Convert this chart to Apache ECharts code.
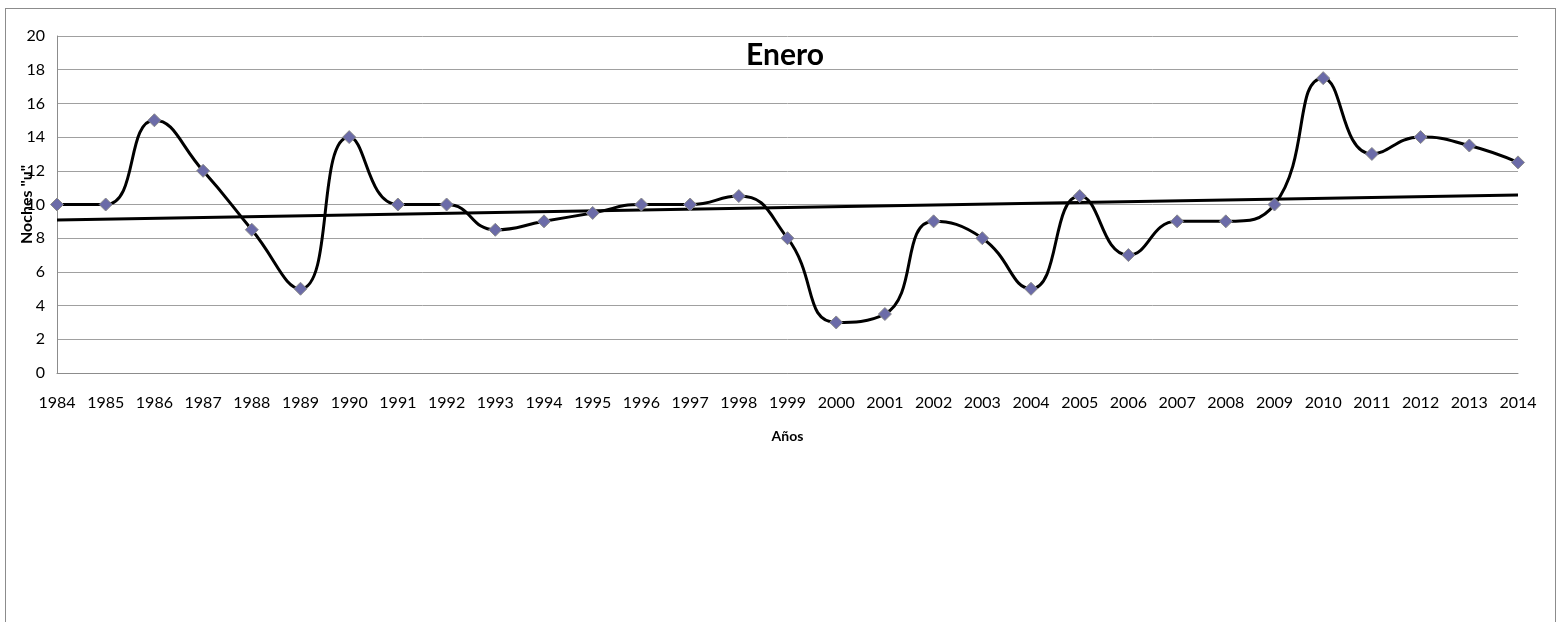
<!DOCTYPE html>
<html><head><meta charset="utf-8">
<script src="https://cdn.jsdelivr.net/npm/echarts@6/dist/echarts.min.js"></script>
<style>html,body{margin:0;padding:0;background:#fff}#c{width:1560px;height:622px}
#frame{position:absolute;left:5px;top:8px;width:1551px;height:640px;border:1px solid #8c8c8c;box-sizing:border-box;pointer-events:none}</style>
</head><body><div id="c"></div><div id="frame"></div>
<script>
const years = ['1984','1985','1986','1987','1988','1989','1990','1991','1992','1993','1994','1995','1996','1997','1998','1999','2000','2001','2002','2003','2004','2005','2006','2007','2008','2009','2010','2011','2012','2013','2014'];
const noches = [10,10,15,12,8.5,5,14,10,10,8.5,9,9.5,10,10,10.5,8,3,3.5,9,8,5,10.5,7,9,9,10,17.5,13,14,13.5,12.5];
const trendEnds = [9.08, 10.56];
const yTicks = [0,2,4,6,8,10,12,14,16,18,20];
const titleText = 'Enero';
const xName = 'Años';
const yName = 'Noches "u"';

const trendData = years.map((_, i) => i === 0 ? trendEnds[0] : (i === years.length - 1 ? trendEnds[1] : null));
const font = 'Lato, "Open Sans", sans-serif';
const chart = echarts.init(document.getElementById('c'));
chart.setOption({
  animation: false,
  title: {text: titleText, left: 780, top: 35, textAlign: 'center',
    textStyle: {fontFamily: font, fontSize: 30, fontWeight: 'bold', color: '#000'}},
  grid: {left: 57, right: 42, top: 36, bottom: 249, containLabel: false, outerBoundsMode: 'none'},
  xAxis: {type: 'category', data: years, boundaryGap: false,
    name: xName, nameLocation: 'middle', nameGap: 56, nameMoveOverlap: false,
    nameTextStyle: {fontFamily: font, fontSize: 14, fontWeight: 'bold', color: '#000'},
    axisLine: {lineStyle: {color: '#8c8c8c', width: 1}},
    axisTick: {show: false},
    axisLabel: {fontFamily: font, fontSize: 16, color: '#000', margin: 22, interval: 0},
    splitLine: {show: false}},
  yAxis: {type: 'value', min: yTicks[0], max: yTicks[yTicks.length-1], interval: 2,
    name: yName, nameLocation: 'middle', nameGap: 22, nameRotate: 90, nameMoveOverlap: false,
    nameTextStyle: {fontFamily: font, fontSize: 16, fontWeight: 'bold', color: '#000'},
    axisLine: {show: true, lineStyle: {color: '#8c8c8c', width: 1}},
    axisTick: {show: false},
    axisLabel: {fontFamily: font, fontSize: 16, color: '#000', margin: 12},
    splitLine: {lineStyle: {color: '#a0a0a0', width: 1}}},
  series: [
    {type: 'line', data: noches, smooth: 0.5, z: 3,
      lineStyle: {color: '#000', width: 3},
      symbol: 'diamond', symbolSize: 13,
      itemStyle: {color: '#6b6ba8', borderColor: '#8a8a8a', borderWidth: 1}},
    {type: 'line', data: trendData, connectNulls: true, symbol: 'none', z: 2,
      lineStyle: {color: '#000', width: 3}}
  ]
});
</script></body></html>
